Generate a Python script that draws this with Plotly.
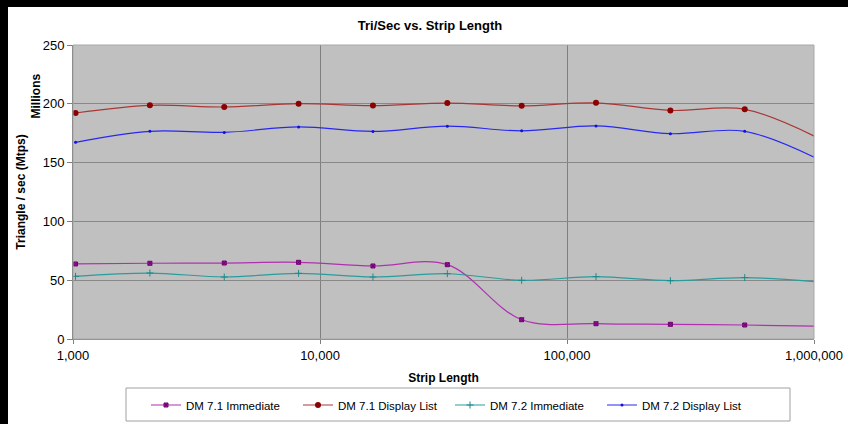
import plotly.graph_objects as go

strip_length = [1024, 2048, 4096, 8192, 16384, 32768, 65536, 131072, 262144, 524288, 1048576]
dm71_immediate = [63.8, 64.4, 64.6, 65.2, 62.1, 63.2, 16.4, 13.0, 12.5, 11.9, 10.8]
dm71_display = [192.2, 198.7, 197.3, 200.1, 198.5, 200.6, 198.3, 200.8, 194.4, 195.3, 170.5]
dm72_immediate = [53.3, 56.1, 52.7, 55.8, 52.7, 55.5, 49.9, 53.0, 49.6, 52.2, 48.5]
dm72_display = [167.2, 176.6, 175.7, 180.3, 176.5, 181.0, 177.0, 181.2, 174.6, 176.6, 152.5]

x_tickvals = [1000, 10000, 100000, 1000000]
x_ticktext = ["1,000", "10,000", "100,000", "1,000,000"]
y_tickvals = [0, 50, 100, 150, 200, 250]

FONT = "Liberation Sans, Arial, sans-serif"

# plot area in pixels
L, R, T, B = 73, 814, 45, 339
W, H = 848, 424
pw, ph = R - L, B - T


def px_x(p):
    return (p - L) / pw


def px_y(p):
    return (B - p) / ph


fig = go.Figure()

fig.add_trace(go.Scatter(
    x=strip_length, y=dm71_immediate, name="DM 7.1 Immediate",
    mode="lines+markers", line=dict(color="#B030B0", width=1.2, shape="spline"),
    marker=dict(symbol="square-x", size=4, color="#A020A0", line=dict(color="#700070", width=1))))
fig.add_trace(go.Scatter(
    x=strip_length, y=dm71_display, name="DM 7.1 Display List",
    mode="lines+markers", line=dict(color="#A83838", width=1.2, shape="spline"),
    marker=dict(symbol="circle", size=6, color="#8B0000")))
fig.add_trace(go.Scatter(
    x=strip_length, y=dm72_immediate, name="DM 7.2 Immediate",
    mode="lines+markers", line=dict(color="#2A9C9C", width=1.2, shape="spline"),
    marker=dict(symbol="cross-thin", size=5, color="#1A8A8A", line=dict(color="#1A8A8A", width=1))))
fig.add_trace(go.Scatter(
    x=strip_length, y=dm72_display, name="DM 7.2 Display List",
    mode="lines+markers", line=dict(color="#2828F0", width=1.2, shape="spline"),
    marker=dict(symbol="circle", size=3, color="#1010E0")))

shapes = [
    # black bands at top and left
    dict(type="rect", xref="paper", yref="paper", x0=px_x(0), x1=px_x(8), y0=px_y(H), y1=px_y(0),
         fillcolor="black", line=dict(width=0), layer="above"),
    dict(type="rect", xref="paper", yref="paper", x0=px_x(0), x1=px_x(W), y0=px_y(7), y1=px_y(0),
         fillcolor="black", line=dict(width=0), layer="above"),
    # legend box
    dict(type="rect", xref="paper", yref="paper", x0=px_x(126), x1=px_x(790), y0=px_y(421), y1=px_y(388),
         fillcolor="rgba(0,0,0,0)", line=dict(color="#A0A0A0", width=1)),
    # plot border top/right
    dict(type="rect", xref="paper", yref="paper", x0=0, x1=1, y0=0, y1=1,
         fillcolor="rgba(0,0,0,0)", line=dict(color="#A8A8A8", width=1)),
]

annotations = [
    dict(text="<b>Millions</b>", x=px_x(26), y=px_y(72), xref="paper", yref="paper",
         textangle=-90, showarrow=False, font=dict(family=FONT, size=12, color="black")),
]

fig.update_layout(
    width=W, height=H, autosize=False,
    margin=dict(l=L, r=W - R, t=T, b=H - B, pad=0, autoexpand=False),
    paper_bgcolor="white", plot_bgcolor="#C0C0C0",
    font=dict(family=FONT, size=12, color="black"),
    title=dict(text="<b>Tri/Sec vs. Strip Length</b>", x=px_x(430), xref="paper", xanchor="center",
               y=1 - 25 / H, yref="container", yanchor="middle",
               font=dict(family=FONT, size=13, color="black")),
    showlegend=True,
    legend=dict(orientation="h", x=px_x(146), xanchor="left", y=px_y(405), yanchor="middle",
                bgcolor="rgba(0,0,0,0)", borderwidth=0, entrywidth=107, entrywidthmode="pixels",
                font=dict(family=FONT, size=11.5, color="black"), itemwidth=30),
    shapes=shapes, annotations=annotations,
)

fig.update_xaxes(
    type="log", range=[3, 6], tickvals=x_tickvals, ticktext=x_ticktext,
    showgrid=True, gridcolor="#808080", gridwidth=1,
    showline=True, linecolor="#808080", linewidth=1,
    ticks="outside", ticklen=4, tickcolor="#808080",
    tickfont=dict(family=FONT, size=13, color="black"),
    title=dict(text="<b>Strip Length</b>", standoff=12, font=dict(family=FONT, size=12, color="black")),
    zeroline=False, automargin=False,
)
fig.update_yaxes(
    range=[0, 250], tickvals=y_tickvals,
    showgrid=True, gridcolor="#888888", gridwidth=1,
    showline=True, linecolor="#707070", linewidth=1,
    ticks="outside", ticklen=5, tickcolor="#808080",
    tickfont=dict(family=FONT, size=13, color="black"),
    title=dict(text="<b>Triangle / sec (Mtps)</b>", standoff=14, font=dict(family=FONT, size=12, color="black")),
    zeroline=False, automargin=False,
)

fig.write_html("out.html", config={"displayModeBar": False, "responsive": False})

# remove default page margins so the figure sits at the window origin
with open("out.html", "r", encoding="utf-8") as f:
    html = f.read()
html = html.replace(
    "<head>",
    "<head><style>html,body{margin:0;padding:0;overflow:hidden;background:#ffffff;}</style>",
    1,
)
with open("out.html", "w", encoding="utf-8") as f:
    f.write(html)
